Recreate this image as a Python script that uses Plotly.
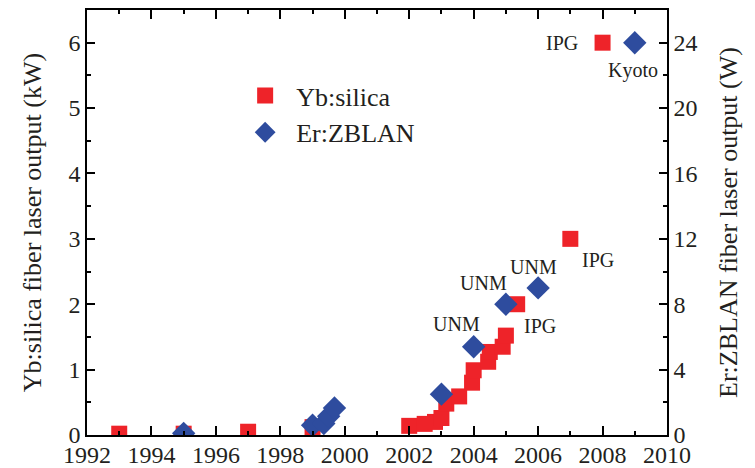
import plotly.graph_objects as go

# Yb:silica fiber laser output (kW) by year
yb_year = [1993.0, 1995.0, 1997.0, 1999.0, 2002.0, 2002.48, 2002.8, 2003.0, 2003.15,
           2003.55, 2003.95, 2004.0, 2004.45, 2004.5, 2004.9, 2005.0, 2005.35, 2007.0, 2008.0]
yb_kw = [0.02, 0.02, 0.05, 0.12, 0.14, 0.17, 0.2, 0.26, 0.48,
         0.59, 0.8, 0.99, 1.12, 1.27, 1.35, 1.52, 2.0, 3.0, 6.0]

# Er:ZBLAN fiber laser output (W) by year
er_year = [1995.0, 1999.0, 1999.35, 1999.5, 1999.68, 2003.0, 2004.0, 2005.0, 2006.0, 2009.0]
er_w = [0.1, 0.6, 0.7, 1.15, 1.65, 2.5, 5.4, 8.0, 9.0, 24.0]

# Group labels: (text, year, kW, xanchor)
labels = [
    ("IPG", 2007.3, 6.0, "right"),
    ("Kyoto", 2008.95, 5.57, "center"),
    ("IPG", 2007.85, 2.68, "center"),
    ("UNM", 2003.46, 1.70, "center"),
    ("UNM", 2004.3, 2.32, "center"),
    ("UNM", 2005.87, 2.57, "center"),
    ("IPG", 2006.05, 1.67, "center"),
]

x_ticks = list(range(1992, 2011, 2))
kw_ticks = list(range(0, 7))
w_ticks = list(range(0, 25, 4))

FONT = "Liberation Serif"
INK = "#231F20"
RED = "#EE2329"
BLUE = "#2E4C9E"

fig = go.Figure()
fig.add_trace(go.Scatter(
    x=yb_year, y=yb_kw, mode="markers", name="Yb:silica", legendgroup="a",
    marker=dict(symbol="square", size=16, color=RED, line=dict(width=0)),
))
fig.add_trace(go.Scatter(
    x=er_year, y=er_w, mode="markers", name="Er:ZBLAN", legendgroup="b", yaxis="y2",
    marker=dict(symbol="diamond", size=18, color=BLUE, line=dict(width=0)),
))

for text, xv, yv, xa in labels:
    fig.add_annotation(x=xv, y=yv, xref="x", yref="y", text=text, showarrow=False,
                       xanchor=xa, yanchor="middle",
                       font=dict(family=FONT, size=20, color=INK))

axis_common = dict(
    showline=True, linecolor="black", linewidth=1.5,
    ticks="inside", tickcolor="black", tickwidth=1.5,
    showgrid=False, zeroline=False, automargin=False,
    tickfont=dict(family=FONT, size=24, color=INK),
)

fig.update_layout(
    width=755, height=468,
    margin=dict(l=87, r=88, t=10, b=33),
    plot_bgcolor="white", paper_bgcolor="white",
    xaxis=dict(range=[1992, 2010], tickvals=x_ticks, ticklen=9, mirror="ticks",
               ticklabelstandoff=-3,
               minor=dict(dtick=1, ticklen=4, ticks="inside", tickcolor="black", tickwidth=1.5),
               **axis_common),
    yaxis=dict(range=[0, 6.5], tickvals=kw_ticks, ticklen=8,
               minor=dict(dtick=0.5, ticklen=4, ticks="inside", tickcolor="black", tickwidth=1.5),
               title=dict(text="Yb:silica fiber laser output (kW)", standoff=19,
                          font=dict(family=FONT, size=26, color=INK)),
               **axis_common),
    yaxis2=dict(range=[0, 26], tickvals=w_ticks, ticklen=8, overlaying="y", side="right",
                minor=dict(dtick=2, ticklen=4, ticks="inside", tickcolor="black", tickwidth=1.5),
                title=dict(text="Er:ZBLAN fiber laser output (W)", standoff=22,
                           font=dict(family=FONT, size=26, color=INK)),
                **axis_common),
    showlegend=True,
    legend=dict(x=0.2537, y=0.854, xanchor="left", yanchor="top", itemwidth=52,
                bgcolor="rgba(0,0,0,0)", traceorder="grouped", tracegroupgap=0,
                font=dict(family=FONT, size=26, color=INK)),
)

fig.write_html("out.html")
